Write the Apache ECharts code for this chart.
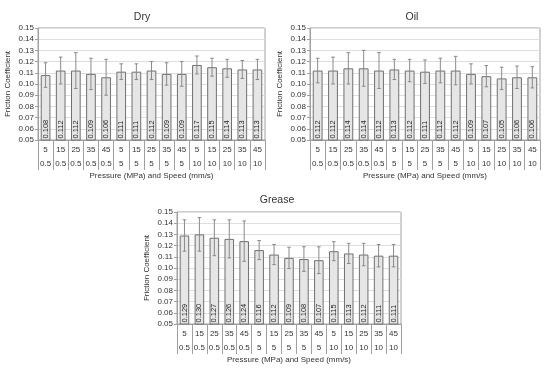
<!DOCTYPE html>
<html><head><meta charset="utf-8">
<script src="https://cdn.jsdelivr.net/npm/echarts@6/dist/echarts.min.js"></script>
<style>html,body{margin:0;padding:0;background:#fff}#c{width:550px;height:375px}</style>
</head><body><div id="c"></div>
<script>
const pressures = ['5','15','25','35','45','5','15','25','35','45','5','15','25','35','45'];
const speeds = ['0.5','0.5','0.5','0.5','0.5','5','5','5','5','5','10','10','10','10','10'];
const dryValues = [0.108,0.112,0.112,0.109,0.106,0.111,0.111,0.112,0.109,0.109,0.117,0.115,0.114,0.113,0.113];
const dryErrors = [0.011,0.012,0.016,0.014,0.016,0.007,0.007,0.008,0.010,0.011,0.008,0.008,0.008,0.008,0.009];
const oilValues = [0.112,0.112,0.114,0.114,0.112,0.113,0.112,0.111,0.112,0.112,0.109,0.107,0.105,0.106,0.106];
const oilErrors = [0.011,0.012,0.014,0.016,0.016,0.009,0.010,0.0105,0.011,0.0127,0.009,0.0095,0.010,0.010,0.0095];
const greaseValues = [0.129,0.130,0.127,0.126,0.124,0.116,0.112,0.109,0.108,0.107,0.115,0.113,0.112,0.111,0.111];
const greaseErrors = [0.014,0.015,0.016,0.017,0.018,0.0085,0.009,0.0095,0.011,0.012,0.0085,0.009,0.010,0.010,0.010];
const panelTitles = ['Dry','Oil','Grease'];
const yMin = 0.05, yMax = 0.15, yInterval = 0.01;
const xName = 'Pressure (MPa) and Speed (mm/s)';
const yName = 'Friction Coefficient';

const FONT = 'Liberation Sans';
const TXT = '#333333';
const categories = pressures.map((p, i) => p + '\n' + speeds[i]);
const panels = [
  {values: dryValues, errors: dryErrors, grid: {left: 38, top: 28, width: 227, height: 112}, tx: 137, ty: 7},
  {values: oilValues, errors: oilErrors, grid: {left: 310, top: 28, width: 230, height: 112}, tx: 407, ty: 7},
  {values: greaseValues, errors: greaseErrors, grid: {left: 177, top: 212, width: 224, height: 112}, tx: 272, ty: 190}
];

function errRender(params, api) {
  const x = api.value(0), v = api.value(1), e = api.value(2);
  const hi = api.coord([x, v + e]);
  const lo = api.coord([x, v - e]);
  const w = 1.8;
  const st = {stroke: '#8a8a8a', lineWidth: 1};
  return {type: 'group', children: [
    {type: 'line', shape: {x1: hi[0], y1: hi[1], x2: lo[0], y2: lo[1]}, style: st},
    {type: 'line', shape: {x1: hi[0] - w, y1: hi[1], x2: hi[0] + w, y2: hi[1]}, style: st},
    {type: 'line', shape: {x1: lo[0] - w, y1: lo[1], x2: lo[0] + w, y2: lo[1]}, style: st}
  ]};
}

const option = {
  animation: false,
  textStyle: {fontFamily: FONT},
  title: panels.map((p, i) => ({
    text: panelTitles[i], left: p.tx, top: p.ty, textAlign: 'center',
    textStyle: {fontSize: 10.5, fontWeight: 'normal', color: TXT, fontFamily: FONT}
  })),
  grid: panels.map(p => Object.assign({show: true, borderColor: '#a0a0a0', borderWidth: 1, backgroundColor: 'transparent'}, p.grid)),
  xAxis: panels.map((p, i) => ({
    type: 'category', gridIndex: i, data: categories,
    axisLine: {lineStyle: {color: '#a0a0a0', width: 1}},
    axisTick: {show: true, interval: 0, length: 30, lineStyle: {color: '#a0a0a0'}},
    axisLabel: {interval: 0, fontSize: 8, lineHeight: 14, color: TXT, margin: 3, fontFamily: FONT},
    name: xName, nameLocation: 'middle', nameGap: 31,
    nameTextStyle: {fontSize: 8, color: TXT, fontFamily: FONT}
  })),
  yAxis: panels.map((p, i) => ({
    type: 'value', gridIndex: i, min: yMin, max: yMax, interval: yInterval,
    axisLine: {show: true, lineStyle: {color: '#a0a0a0'}},
    axisTick: {show: true, length: 3, lineStyle: {color: '#a0a0a0'}},
    splitLine: {lineStyle: {color: '#dedede'}},
    axisLabel: {fontSize: 8, color: TXT, margin: 4, formatter: v => v.toFixed(2), fontFamily: FONT},
    name: yName, nameLocation: 'middle', nameGap: 26,
    nameTextStyle: {fontSize: 8, color: TXT, fontFamily: FONT}
  })),
  series: panels.flatMap((p, i) => [
    {
      type: 'bar', xAxisIndex: i, yAxisIndex: i, data: p.values, barWidth: '64%',
      itemStyle: {color: '#e6e6e6', borderColor: '#707070', borderWidth: 1},
      label: {show: true, position: 'insideBottom', rotate: 90, distance: 2, align: 'left', verticalAlign: 'middle',
        fontSize: 7.5, color: '#222222', fontFamily: FONT, formatter: d => d.value.toFixed(3)}
    },
    {
      type: 'custom', xAxisIndex: i, yAxisIndex: i, renderItem: errRender, z: 5,
      encode: {x: 0, y: 1},
      data: p.values.map((v, j) => [j, v, p.errors[j]])
    }
  ])
};
const chart = echarts.init(document.getElementById('c'), null, {renderer: 'canvas'});
chart.setOption(option);
</script></body></html>
